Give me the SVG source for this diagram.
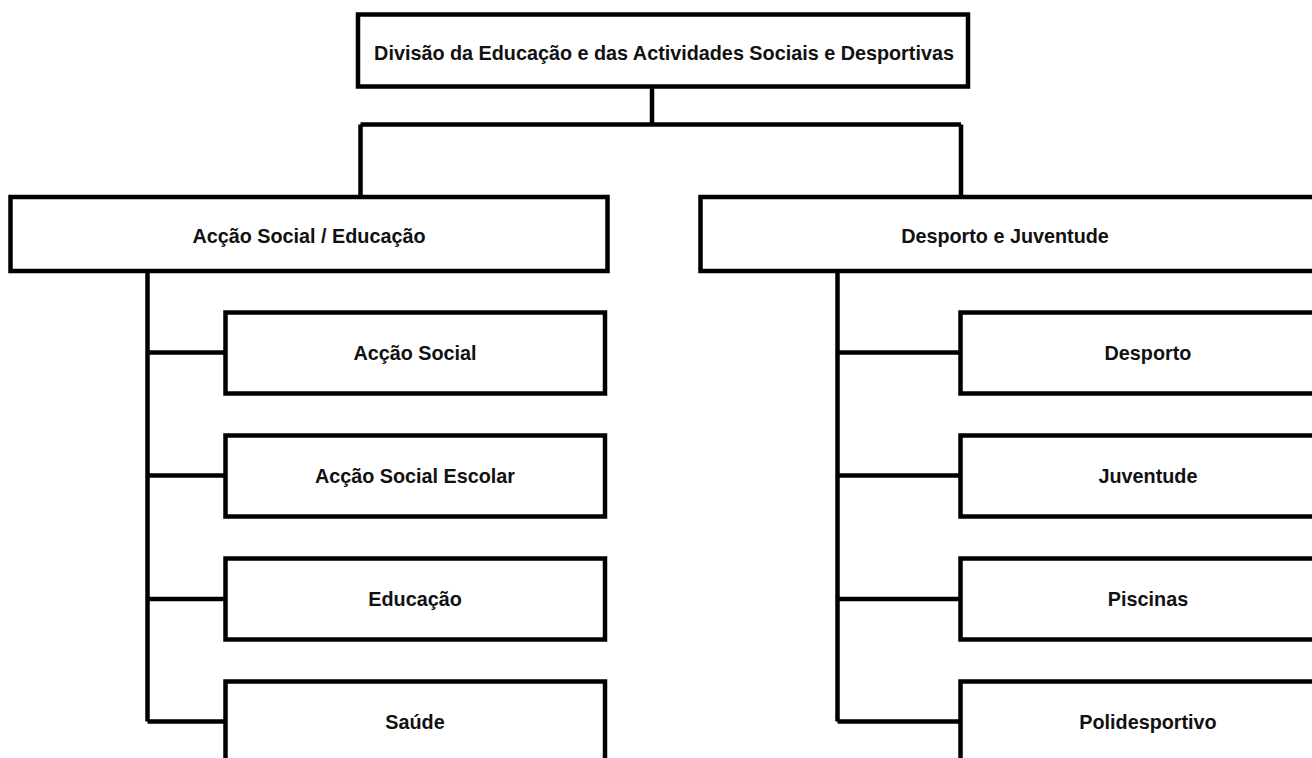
<svg xmlns="http://www.w3.org/2000/svg" width="1312" height="758" viewBox="0 0 1312 758">
<style>
.box{fill:#fff;stroke:#000;stroke-width:4.5}
.ln{fill:none;stroke:#000;stroke-width:4.5}
text{font-family:"Liberation Sans",Arial,sans-serif;font-size:19.8px;font-weight:bold;fill:#111;text-anchor:middle;dominant-baseline:central}
</style>
<rect width="1312" height="758" fill="#fff"/>
<g id="connectors">
<path class="ln" d="M652,87 V124.5 M360.5,124.5 H961 M360.5,124.5 V197 M961,124.5 V197"/>
<path class="ln" d="M147.5,271 V721.5 M147.5,352.5 H225.5 M147.5,475.5 H225.5 M147.5,599 H225.5 M147.5,721.5 H225.5"/>
<path class="ln" d="M837.5,271 V721.5 M837.5,352.5 H960.5 M837.5,475.5 H960.5 M837.5,599 H960.5 M837.5,721.5 H960.5"/>
</g>
<g id="n-root"><rect class="box" x="358" y="14.5" width="610" height="72"/><text x="664" y="52.5">Divisão da Educação e das Actividades Sociais e Desportivas</text></g>
<g id="n-accao-educacao"><rect class="box" x="10.5" y="197" width="597" height="74"/><text x="309" y="235.5">Acção Social / Educação</text></g>
<g id="n-desporto-juventude"><rect class="box" x="700.5" y="197" width="630" height="74"/><text x="1005" y="235.5">Desporto e Juventude</text></g>
<g id="n-accao-social"><rect class="box" x="225.5" y="312.5" width="379.5" height="81"/><text x="415" y="353">Acção Social</text></g>
<g id="n-accao-social-escolar"><rect class="box" x="225.5" y="435.5" width="379.5" height="81"/><text x="415" y="476">Acção Social Escolar</text></g>
<g id="n-educacao"><rect class="box" x="225.5" y="558.5" width="379.5" height="81"/><text x="415" y="599">Educação</text></g>
<g id="n-saude"><rect class="box" x="225.5" y="681.5" width="379.5" height="81"/><text x="415" y="722">Saúde</text></g>
<g id="n-desporto"><rect class="box" x="960.5" y="312.5" width="380" height="81"/><text x="1148" y="353">Desporto</text></g>
<g id="n-juventude"><rect class="box" x="960.5" y="435.5" width="380" height="81"/><text x="1148" y="476">Juventude</text></g>
<g id="n-piscinas"><rect class="box" x="960.5" y="558.5" width="380" height="81"/><text x="1148" y="599">Piscinas</text></g>
<g id="n-polidesportivo"><rect class="box" x="960.5" y="681.5" width="380" height="81"/><text x="1148" y="722">Polidesportivo</text></g>
</svg>
